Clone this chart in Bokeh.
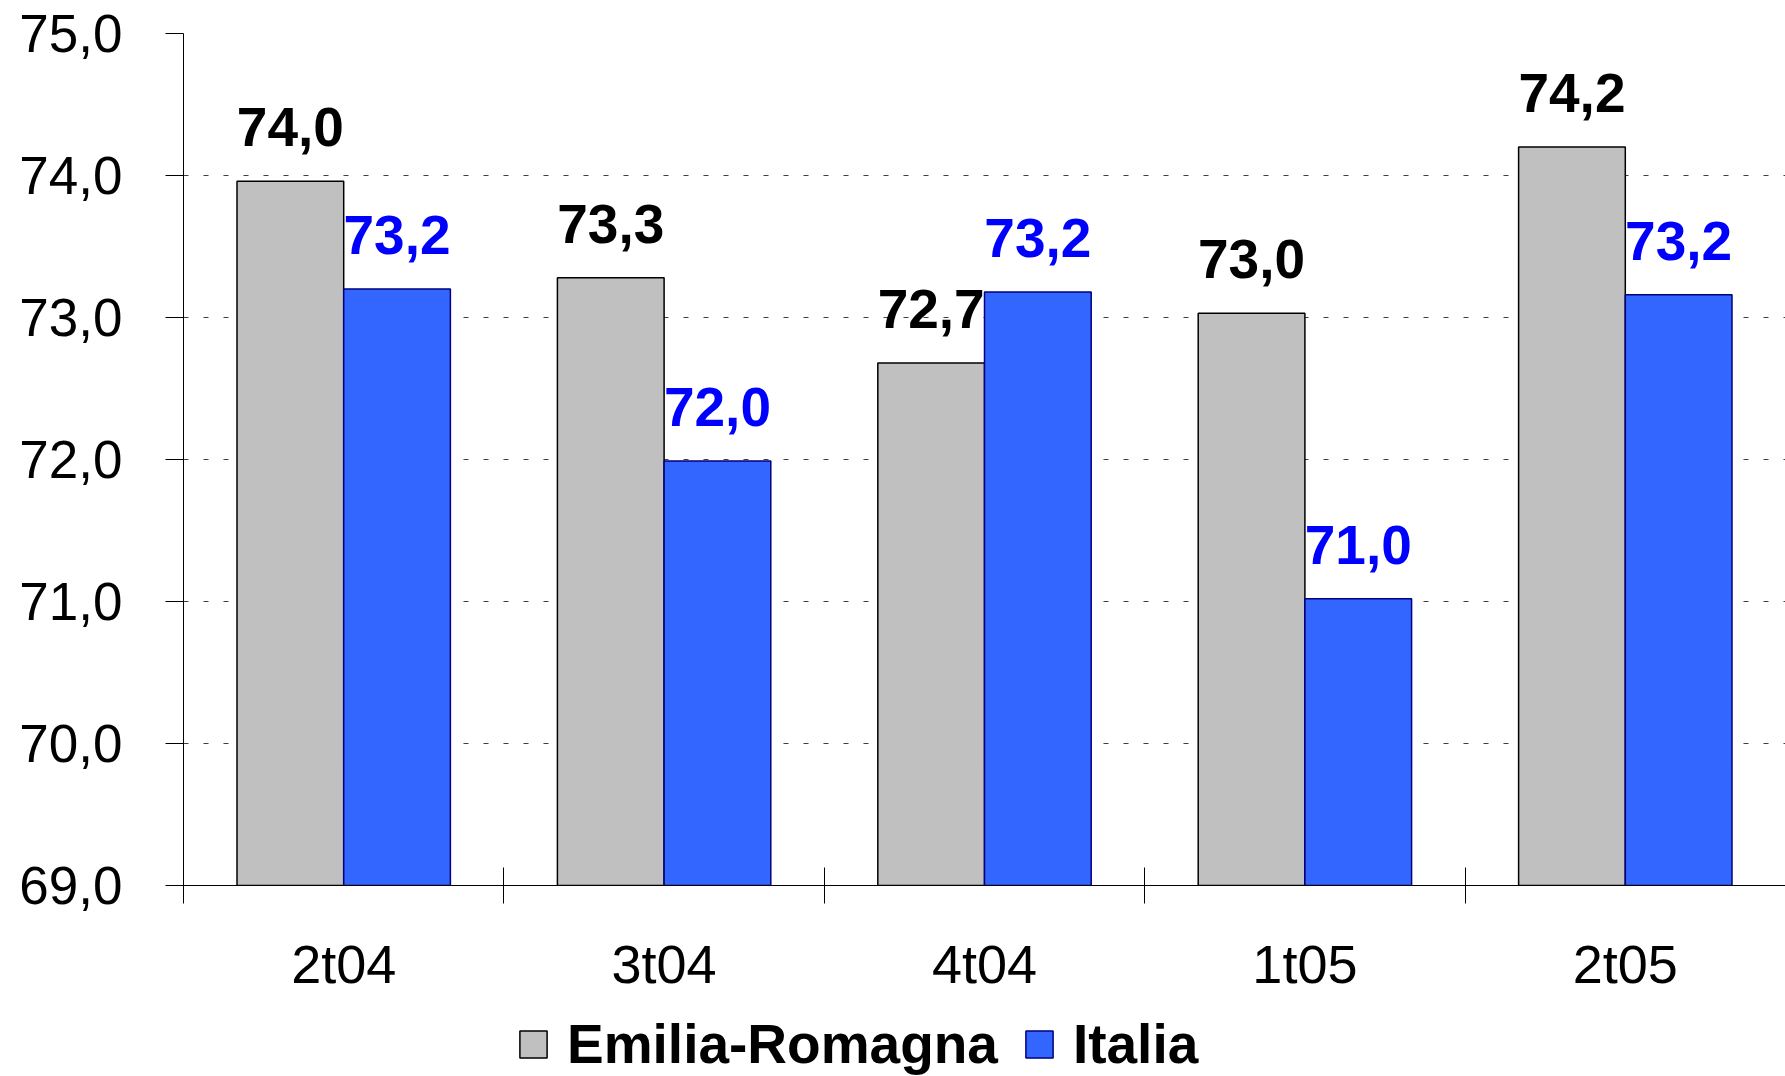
from bokeh.plotting import figure
from bokeh.layouts import column
from bokeh.models import ColumnDataSource, Range1d, FixedTicker, Legend, LegendItem
from bokeh.transform import dodge
from bokeh.core.properties import value
from bokeh.embed import file_html
from bokeh.resources import INLINE

categories = ["2t04", "3t04", "4t04", "1t05", "2t05"]
series_names = ["Emilia-Romagna", "Italia"]
emilia_romagna = [73.96, 73.28, 72.68, 73.03, 74.20]
italia = [73.20, 71.99, 73.18, 71.02, 73.16]
y_ticks = [69, 70, 71, 72, 73, 74, 75]

FONT = "Liberation Sans"
GREY, GREY_LINE = "#C0C0C0", "black"
BLUE, BLUE_LINE = "#3366FF", "#000080"

def fmt(v):
    return f"{v:.1f}".replace(".", ",")

pos = [i + 0.5 for i in range(len(categories))]
LAB_OFF = 0.38
src = ColumnDataSource(dict(
    x=pos, cat=categories, er=emilia_romagna, it=italia,
    er_lab=[fmt(v) for v in emilia_romagna], it_lab=[fmt(v) for v in italia],
    er_ly=[v + LAB_OFF for v in emilia_romagna], it_ly=[v + LAB_OFF for v in italia],
))

H1 = 1010
p = figure(width=1785, height=H1, output_backend="svg", toolbar_location=None,
           x_range=Range1d(0, len(categories)), y_range=Range1d(y_ticks[0], y_ticks[-1]),
           min_border_left=183, min_border_top=33, min_border_right=0, min_border_bottom=H1 - 885)
p.outline_line_color = None
p.background_fill_color = "white"

W = 0.333
off = 0.1665
p.vbar(x=dodge("x", -off, range=p.x_range), top="er", bottom=y_ticks[0], width=W, source=src,
       fill_color=GREY, line_color=GREY_LINE, line_width=1.5)
p.vbar(x=dodge("x", off, range=p.x_range), top="it", bottom=y_ticks[0], width=W, source=src,
       fill_color=BLUE, line_color=BLUE_LINE, line_width=1.5)

p.text(x=dodge("x", -off, range=p.x_range), y="er_ly", text="er_lab", source=src,
       text_align="center", text_baseline="alphabetic", text_font=value(FONT),
       text_font_style="bold", text_font_size="55px", text_color="black")
p.text(x=dodge("x", off, range=p.x_range), y="it_ly", text="it_lab", source=src,
       text_align="center", text_baseline="alphabetic", text_font=value(FONT),
       text_font_style="bold", text_font_size="55px", text_color="#0000FF")

# x axis
xa = p.xaxis[0]
xa.ticker = FixedTicker(ticks=pos, minor_ticks=list(range(len(categories) + 1)))
xa.major_label_overrides = {x: c for x, c in zip(pos, categories)}
xa.major_tick_line_color = None
xa.major_tick_out = 0
xa.major_tick_in = 0
xa.minor_tick_in = 18
xa.minor_tick_out = 18
xa.minor_tick_line_color = "black"
xa.axis_line_color = "black"
xa.major_label_text_font = FONT
xa.major_label_text_font_size = "54px"
xa.major_label_text_color = "black"
xa.major_label_standoff = 30

# y axis
ya = p.yaxis[0]
ya.ticker = FixedTicker(ticks=y_ticks, minor_ticks=[])
ya.major_label_overrides = {t: fmt(t) for t in y_ticks}
ya.major_tick_in = 0
ya.major_tick_out = 18
ya.major_tick_line_color = "black"
ya.axis_line_color = "black"
ya.major_label_text_font = FONT
ya.major_label_text_font_size = "53px"
ya.major_label_text_color = "black"
ya.major_label_standoff = 43

p.xgrid.grid_line_color = None
p.ygrid.grid_line_color = "#404040"
p.ygrid.grid_line_dash = "5 15"
p.ygrid.grid_line_width = 1

# legend strip (its renderers are hidden; only the legend shows)
H2 = 1076 - H1
p2 = figure(width=1785, height=H2, output_backend="svg", toolbar_location=None,
            x_axis_type=None, y_axis_type=None, x_range=Range1d(0, 1), y_range=Range1d(0, 1),
            min_border=0)
p2.outline_line_color = None
p2.grid.grid_line_color = None
lr1 = p2.vbar(x="x", top="er", bottom=y_ticks[0], width=W, source=src,
              fill_color=GREY, line_color=GREY_LINE, line_width=1.5, visible=False)
lr2 = p2.vbar(x="x", top="it", bottom=y_ticks[0], width=W, source=src,
              fill_color=BLUE, line_color=BLUE_LINE, line_width=1.5, visible=False)
legend = Legend(items=[LegendItem(label=series_names[0], renderers=[lr1]),
                       LegendItem(label=series_names[1], renderers=[lr2])],
                orientation="horizontal", location=(333, 0),
                label_text_font=FONT, label_text_font_style="bold", label_text_font_size="55px",
                label_text_color="black", inactive_fill_alpha=0,
                glyph_width=34, glyph_height=34, label_standoff=17, spacing=24,
                padding=0, margin=0, border_line_color=None, background_fill_alpha=0)
p2.add_layout(legend, "center")

open("out.html", "w").write(file_html(column(p, p2, spacing=0), INLINE))
